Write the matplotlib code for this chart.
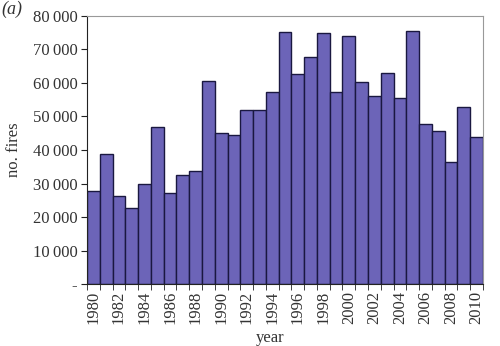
import matplotlib
matplotlib.use('Agg')

import matplotlib.pyplot as plt
import numpy as np

years = list(range(1980, 2011))
fires = [27800, 38800, 26200, 22800, 30000, 47000, 27200, 32500, 33600, 60600,
         45000, 44400, 52000, 52000, 57200, 75200, 62700, 67700, 74800, 57200,
         74000, 60400, 56200, 63000, 55500, 75600, 47800, 45600, 36300, 52700,
         43800]
y_ticks = [0, 10000, 20000, 30000, 40000, 50000, 60000, 70000, 80000]
y_labels = ['-'] + ['%d\u2009000' % (v // 1000) for v in y_ticks[1:]]

plt.rcParams['font.family'] = ['Liberation Serif', 'DejaVu Serif']

fig = plt.figure(figsize=(5, 3.46), dpi=100)
ax = fig.add_axes([0.174, 0.179, 0.792, 0.775])

x = np.arange(len(years))
ax.bar(x, fires, width=1.0, color='#6c64b8', edgecolor='#1a1840', linewidth=1.0)

ax.set_xlim(-0.5, len(years) - 0.5)
ax.set_ylim(0, 80000)
ax.set_yticks(y_ticks)
ax.set_yticklabels(y_labels, fontsize=12, color='#333333')

# labels every other year, tick marks between categories
ax.set_xticks(x[::2])
ax.set_xticklabels([str(y) for y in years[::2]], rotation=90, fontsize=12,
                   color='#333333')
ax.tick_params(axis='x', which='major', length=0, pad=5)
ax.set_xticks(np.arange(-0.5, len(years), 1), minor=True)
ax.tick_params(axis='x', which='minor', length=4, color='#222222')
ax.tick_params(axis='y', length=4, color='#222222', pad=3)

for s in ['top', 'right']:
    ax.spines[s].set_color('#999999')
ax.spines['left'].set_color('#222222')
ax.spines['bottom'].set_color('#222222')

ax.set_ylabel('no. fires', fontsize=12, color='#333333')
ax.yaxis.set_label_coords(-0.163, 0.5)
fig.text(0.54, 0.0, 'year', fontsize=12, color='#333333', ha='center', va='bottom')
fig.text(0.002, 0.972, '(a)', fontsize=13, style='italic', color='#333333',
         ha='left', va='center')

plt.savefig('out.png', dpi=100)
plt.close()
